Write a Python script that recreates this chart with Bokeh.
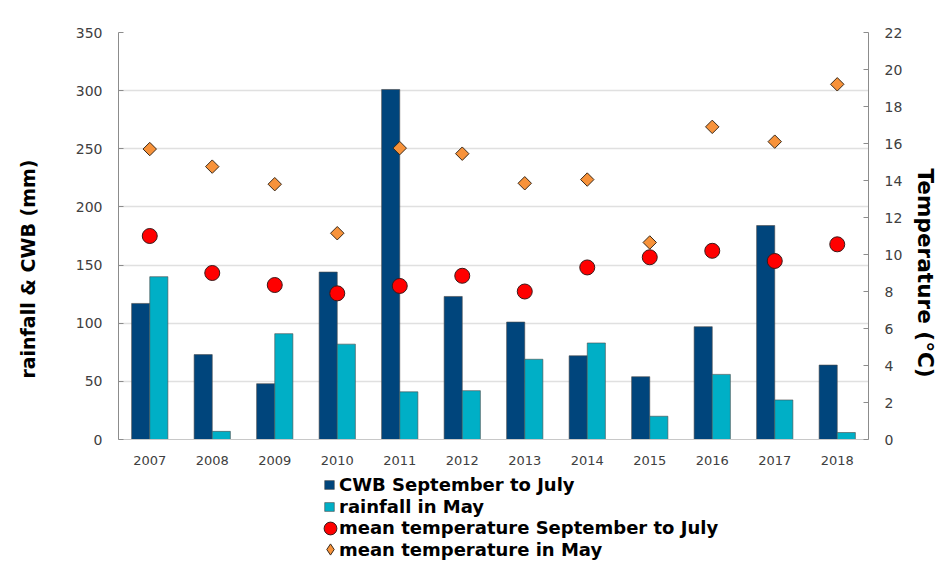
from bokeh.plotting import figure
from bokeh.models import Range1d, LinearAxis, Legend, LegendItem, FactorRange, SingleIntervalTicker, Title
from bokeh.layouts import column
from bokeh.transform import dodge
from bokeh.embed import file_html
from bokeh.resources import INLINE

years = ["2007", "2008", "2009", "2010", "2011", "2012", "2013", "2014", "2015", "2016", "2017", "2018"]
cwb_sep_jul = [117, 73, 48, 144, 301, 123, 101, 72, 54, 97, 184, 64]
rain_may = [140, 7, 91, 82, 41, 42, 69, 83, 20, 56, 34, 6]
temp_sep_jul = [11.0, 9.0, 8.35, 7.9, 8.3, 8.85, 8.0, 9.3, 9.85, 10.2, 9.65, 10.55]
temp_may = [15.7, 14.75, 13.8, 11.15, 15.75, 15.45, 13.85, 14.05, 10.65, 16.9, 16.1, 19.2]
legend_labels = ["CWB September to July", "rainfall in May",
                 "mean temperature September to July", "mean temperature in May"]

FONT = "DejaVu Sans"
C_CWB, C_RAIN, C_TSJ, C_TMAY = "#00457c", "#00afc6", "#ff0000", "#f7923a"

p = figure(x_range=FactorRange(*years, range_padding=0), y_range=Range1d(0, 350),
           width=947, height=470, output_backend="svg", toolbar_location=None,
           min_border_left=118, min_border_right=79, min_border_top=32, min_border_bottom=31)
p.outline_line_color = None
p.extra_y_ranges = {"temp": Range1d(0, 22)}

data = dict(years=years, cwb=cwb_sep_jul, rain=rain_may, tsj=temp_sep_jul, tmay=temp_may)

p.vbar(x=dodge("years", -0.145, range=p.x_range), top="cwb", width=0.29, source=data,
       fill_color=C_CWB, line_color="#4a4a4a", line_width=0.6)
p.vbar(x=dodge("years", 0.145, range=p.x_range), top="rain", width=0.29, source=data,
       fill_color=C_RAIN, line_color="#4a4a4a", line_width=0.6)
p.scatter(x="years", y="tsj", y_range_name="temp", source=data, marker="circle", size=15,
          fill_color=C_TSJ, line_color="#3a1a1a", line_width=1)
p.scatter(x="years", y="tmay", y_range_name="temp", source=data, marker="square", size=9.5,
          angle=0.785398, fill_color=C_TMAY, line_color="#3a2a1a", line_width=1)

# left axis
ya = p.yaxis[0]
ya.ticker = SingleIntervalTicker(interval=50)
ya.axis_label = "rainfall & CWB (mm)" + "\u00a0" * 10
ya.axis_label_text_font = FONT
ya.axis_label_text_font_style = "bold"
ya.axis_label_text_font_size = "19px"
ya.axis_label_text_color = "#000000"
ya.axis_label_standoff = 34
ya.major_label_text_font = FONT
ya.major_label_text_font_size = "14px"
ya.major_label_text_color = "#404040"
ya.axis_line_color = "#8c8c8c"
ya.major_tick_line_color = "#8c8c8c"
ya.major_tick_in = 5
ya.major_tick_out = 0
ya.minor_tick_line_color = None
ya.major_label_standoff = 12

ra = LinearAxis(y_range_name="temp", ticker=SingleIntervalTicker(interval=2))
ra.major_label_text_font = FONT
ra.major_label_text_font_size = "14px"
ra.major_label_text_color = "#404040"
ra.axis_line_color = "#8c8c8c"
ra.major_tick_line_color = "#8c8c8c"
ra.major_tick_in = 5
ra.major_tick_out = 0
ra.minor_tick_line_color = None
ra.major_label_standoff = 12
p.add_layout(ra, "right")

rt = Title(text="Temperature (°C)", align="left", offset=136,
           text_font=FONT, text_font_style="bold", text_font_size="21.6px",
           text_color="#000000", standoff=15)
p.add_layout(rt, "right")

xa = p.xaxis[0]
xa.major_label_text_font = FONT
xa.major_label_text_font_size = "13px"
xa.major_label_text_color = "#404040"
xa.axis_line_color = "#c8c8c8"
xa.major_tick_line_color = None
xa.minor_tick_line_color = None
xa.major_label_standoff = 10

p.xgrid.grid_line_color = None
p.ygrid.grid_line_color = "#e0e0e0"
p.ygrid.grid_line_width = 1.5

# legend figure below
p2 = figure(x_range=Range1d(0, 1), y_range=Range1d(0, 1), width=947, height=105,
            output_backend="svg", toolbar_location=None,
            min_border=0, x_axis_location=None, y_axis_location=None)
p2.outline_line_color = None
p2.grid.grid_line_color = None
off = [-10.0]
l1 = p2.vbar(x=off, top=off, width=0.1, fill_color=C_CWB, line_color="#4a4a4a", line_width=0.6)
l2 = p2.vbar(x=off, top=off, width=0.1, fill_color=C_RAIN, line_color="#4a4a4a", line_width=0.6)
l3 = p2.scatter(x=off, y=off, marker="circle", size=12, fill_color=C_TSJ, line_color="#3a1a1a", line_width=1)
l4 = p2.scatter(x=off, y=off, marker="diamond", size=9, fill_color=C_TMAY,
                line_color="#3a2a1a", line_width=1)
blank = p2.scatter(x=off, y=off, marker="circle", size=1, fill_alpha=0, line_alpha=0)


def make_legend(label, renderer, loc, gw, gh, ls):
    lg = Legend(items=[LegendItem(label=label, renderers=[renderer])], location=loc, orientation="vertical")
    lg.label_text_font = FONT
    lg.label_text_font_style = "bold"
    lg.label_text_font_size = "18px"
    lg.label_text_color = "#000000"
    lg.glyph_width = gw
    lg.glyph_height = gh
    lg.label_height = 21
    lg.spacing = 0
    lg.label_standoff = ls
    lg.padding = 0
    lg.margin = 0
    lg.border_line_alpha = 0
    lg.background_fill_alpha = 0
    p2.add_layout(lg, "center")


# bar entries: glyph + text in one legend each
make_legend(legend_labels[0], l1, (205, 80), 12, 11, 4)
make_legend(legend_labels[1], l2, (205, 58), 12, 11, 4)
# marker entries: a glyph-only legend (large box -> larger marker) plus a text legend
make_legend("\u00a0", l3, (196, 31), 32, 32, 0)
make_legend(legend_labels[2], blank, (220, 37), 1, 1, 0)
make_legend("\u00a0", l4, (198, 12), 28, 28, 0)
make_legend(legend_labels[3], blank, (220, 15), 1, 1, 0)

open("out.html", "w").write(file_html(column(p, p2, spacing=0), INLINE))
